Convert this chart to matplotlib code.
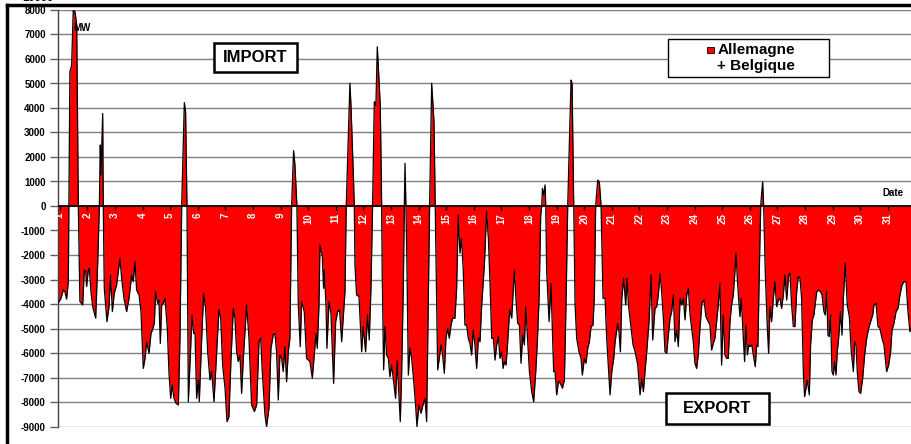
import matplotlib
matplotlib.use("Agg")
import matplotlib.pyplot as plt
from matplotlib.patches import Rectangle
from matplotlib.lines import Line2D

# hourly-ish readings of the exchange balance (MW), hour 0 = start of day 1
hours = [
    0.0, 2.3, 4.3, 5.8, 7.2, 8.7, 10.1, 11.6, 13.0, 14.5, 16.0, 17.4, 18.8, 21.2, 22.6, 23.8,
    24.6, 26.1, 27.0, 28.4, 29.9, 32.5, 34.2, 35.7, 36.5, 37.1, 38.6, 39.1, 40.0, 42.3, 44.1,
    45.5, 47.0, 48.7, 50.7, 53.6, 55.1, 57.1, 59.4, 61.5, 63.8, 65.2, 66.7, 68.1, 70.2, 71.9,
    73.9, 75.4, 76.8, 78.9, 80.6, 81.8, 83.5, 84.6, 86.4, 87.5, 88.7, 89.9, 91.3, 92.8, 94.8,
    96.2, 97.7, 99.1, 100.6, 102.3, 104.4, 105.8, 107.3, 109.6, 110.7, 111.9, 113.1, 116.3,
    117.7, 118.9, 120.3, 121.8, 122.6, 124.7, 126.4, 128.1, 129.9, 131.9, 133.4, 135.4, 137.7,
    139.7, 141.2, 142.9, 145.0, 146.7, 148.4, 150.2, 152.2, 153.6, 155.1, 156.5, 158.0, 159.4,
    160.9, 163.8, 165.8, 168.1, 170.5, 172.5, 174.5, 176.0, 177.4, 179.7,
    181.1, 183.2, 184.9, 186.9, 188.4, 189.8, 191.3, 192.7, 194.2, 195.6, 197.1, 198.5, 200.0,
    201.4, 202.9, 204.6, 205.8, 207.5, 208.7, 210.4, 211.6, 213.9, 215.9, 217.4, 218.8, 220.9,
    222.6, 224.1, 225.2, 226.7, 227.5, 229.6, 230.7, 231.3, 232.8, 233.6, 235.4, 237.1, 239.4,
    241.2, 242.9, 244.6, 246.4, 248.1, 249.3, 250.4, 253.6, 254.5, 256.5, 257.4, 258.0, 259.4,
    261.5, 263.8, 265.2, 267.2, 269.0, 270.4, 271.9, 273.3, 274.8, 276.2, 277.4, 278.6, 280.0,
    281.2, 281.7, 282.9, 284.1, 285.5, 287.0, 288.4, 289.9, 291.6, 293.3, 294.8, 295.9, 297.4,
    298.6, 300.0, 300.9, 301.5, 302.3, 303.2, 304.4, 305.8, 307.3, 309.0, 310.7, 311.9, 313.6,
    315.4, 317.1, 318.9, 320.3, 321.7, 322.9, 324.7, 325.5, 326.7, 327.8, 328.7, 329.9, 331.3,
    332.8, 334.2, 335.7, 337.1, 338.6, 340.0, 341.5, 342.9, 344.9, 346.4, 347.8, 349.3, 350.7,
    352.2, 353.6, 355.1, 356.5, 358.0, 359.4, 360.9, 362.3,
    363.8, 365.3, 366.7, 368.2, 370.5, 372.5, 374.0, 375.4, 376.9, 378.3, 379.8, 381.2, 382.7,
    384.1, 385.6, 386.8, 387.9, 389.4, 390.8, 392.5, 394.3, 396.6, 398.1, 399.5, 401.0, 402.4,
    403.9, 405.3, 406.5, 407.9, 409.7, 411.7, 413.4, 415.2, 416.6, 418.1, 419.5, 420.4, 421.0,
    422.1, 423.3, 423.9, 424.7, 426.8, 428.5, 429.7, 430.8, 432.0, 433.4, 434.9, 436.6, 438.4,
    440.1, 441.5, 443.0, 445.9, 446.8, 448.2, 449.4, 450.8, 452.8, 454.6, 455.7, 457.5, 458.9,
    460.4, 461.8, 463.3, 465.0, 466.2, 467.3, 469.1, 470.5, 472.0, 473.7, 475.5, 476.9, 478.4,
    479.8, 481.3, 483.0, 484.2, 486.5, 487.6, 488.8, 490.0, 491.7, 493.4, 494.6, 495.8, 498.1,
    499.8, 501.6, 503.9, 505.9, 507.4, 508.8, 510.2, 511.7, 513.7, 515.5, 516.9, 518.9, 520.4,
    521.8, 523.3, 524.7, 526.2, 527.6, 529.1, 530.5, 532.0, 533.4, 534.9, 536.3, 537.8, 539.2,
    540.7, 542.1, 543.6, 545.0, 546.5, 547.9, 549.4,
    552.2, 553.6, 555.1, 556.5, 558.0, 559.7, 561.5, 563.2, 565.2, 566.7, 568.1, 569.6, 571.0,
    572.5, 573.9, 575.4, 576.8, 578.3, 579.7, 581.2, 582.6, 584.1, 585.5, 587.0, 588.4, 589.3,
    590.5, 591.6, 592.8, 593.9, 595.7, 596.8, 598.0, 599.2, 600.3, 601.5, 603.2, 604.4, 606.1,
    607.3, 608.4, 609.6, 610.8, 612.5, 613.4, 614.8, 616.6, 617.7, 618.9, 620.3, 621.8, 623.2,
    624.7, 626.1, 627.6, 629.0, 630.5, 631.9, 633.4, 635.1, 636.3, 637.7, 639.2, 640.6, 642.1,
    643.5, 645.0, 646.4, 647.9, 649.0, 650.2, 651.3, 653.1, 654.2, 655.7, 657.1, 659.5, 661.2,
    662.9, 664.1, 665.8, 667.0, 668.2, 669.3, 670.5, 671.6, 672.8, 674.0, 675.1, 676.3, 677.4,
    678.6, 680.3, 681.5, 682.7, 684.4, 686.1, 687.9, 689.6, 691.4, 692.5, 693.7, 694.8, 696.3,
    697.7, 699.5, 701.2, 703.0, 704.7, 706.4, 708.2, 709.3, 711.1, 712.8, 714.5, 716.3, 718.0,
    720.3, 722.1, 723.8, 725.0, 726.7, 728.5, 730.2, 731.9, 733.7, 735.4, 737.2, 738.9, 740.6,
    742.4,
]
mw = [
    -3950, -3770, -3430, -3500, -3800, -3090, 5480, 5750, 8000, 7930, 7390, 0, -3900, -4040, -2610, -2680,
    -3290, -2610, -2540, -3500, -4110, -4580, -2410, 0, 2490, 1270, 3780, 0, -3360, -4720, -4110,
    -2820, -4310, -3560, -3220, -2140, -2950, -3770, -4310, -3770, -2820, -3090, -2270, -3430, -3630, -4310,
    -6630, -6220, -5540, -6010, -5200, -5060, -4790, -3500, -3970, -3840, -5610, -4040, -3970, -3770, -4990,
    -6760, -7850, -7310, -7850, -8050, -8120, -5400, 0, 4220, 3850, 0, -7990, -4450,
    -5200, -5200, -7850, -7100, -7990, -5400, -3560, -4180, -5950, -7100, -6760, -7990, -5950,
    -4240, -4580, -6490, -7440, -8800, -8600, -6220, -4180, -4580, -5950, -6350, -6080, -7650,
    -6220, -4040, -5400, -8120, -8390, -8120, -5540, -5400, -6760, -8530,
    -9000, -8260, -5810, -5260, -5200, -5950, -7920, -6080, -6220, -6760, -5740, -7170, -5950,
    -5400, 0, 2260, 1670, 0, -4040, -5740, -3900, -4310, -6220, -6290, -6350, -7030,
    -6080, -5200, -5810, -4040, -1590, -2070, -3360, -2610, -4040, -5810, -3900, -4380, -7240,
    -4720, -4310, -4240, -5540, -4310, -3500, 0, 5010, 4120, 1400, 0, -2410, -3630,
    -3700, -5950, -4920, -5950, -4450, -5470, -3360, 0, 4260, 4120, 6500, 5410, 4120,
    0, -2820, -6690, -4920, -6080, -6220, -6970, -6490, -7170, -7850, -6290, -7440, -8800,
    -6760, -3360, 0, 1740, 0, -2410, -6900, -5810, -6220, -7100, -8120, -9000, -8120,
    -8460, -8120, -7850, -8800, -4040, 0, 5010, 4390, 3440, 0, -2680, -6690, -6220,
    -5670, -6080, -6830, -5400, -4990, -5400, -4860, -4580, -4580, -3360, -370, -1930, -1320,
    -2680, -4860, -4860, -5400, -5610, -6080, -5060, -5670,
    -6630, -5400, -5540, -4040, -2410, -230, -1320, -3090, -5400, -5400, -6290, -5670, -5330,
    -6220, -5950, -6630, -6350, -6490, -5540, -4240, -4580, -2610, -3900, -4790, -4860, -6420,
    -5270, -5670, -4110, -5270, -6760, -7580, -7990, -6760, -5540, -3770, -370, 0, 720,
    450, 860, 0, -2680, -4720, -3160, -5130, -6760, -6760, -7710, -7170, -7240, -7440,
    -7100, -4040, 0, 5140, 5010, 0, -4040, -5400, -5950, -6220, -6900, -6220, -6420,
    -5810, -5540, -4920, -4860, -3630, 0, 1060, 990, 0, -3770, -3770, -5400, -6630,
    -7710, -6760, -6220, -5540, -4790, -5130, -5950, -3770, -2950, -4040, -2950, -4040, -4990,
    -5670, -5950, -6490, -7710, -7030, -7580, -6760, -5950, -4720, -2820, -5470, -4180, -4110,
    -3630, -2750, -3500, -4580, -5950, -6010, -5270, -4580, -4310, -3630, -5540, -5060, -5740,
    -3770, -4040, -3770, -4650, -3630, -3360, -4450,
    -5540, -6420, -6630, -6080, -4990, -3970, -3840, -4520, -4720, -4860, -5880, -5610, -5400,
    -4720, -4040, -3160, -6490, -4450, -6080, -6220, -6220, -4720, -4040, -3630, -2680, -1930,
    -2950, -3770, -4520, -3770, -5400, -6350, -4860, -6080, -5670, -5740, -5670, -6080, -6560,
    -5670, -5740, -2680, 0, 990, 0, -2680, -4990, -6010, -4110, -4720, -3770, -3090,
    -4110, -3840, -3770, -4180, -3630, -2820, -3840, -2820, -2750, -4040, -4920, -4920, -3500,
    -2880, -2950, -3770, -6760, -7780, -7440, -7100, -7710, -5670, -4650, -4450, -3500, -3430,
    -3500, -3630, -4310, -4450, -3500, -5270, -5330, -4450, -6760, -6900, -6350, -6900, -5950,
    -5400, -4310, -5270, -3770, -2340, -4040, -4520, -5950, -6760, -5540, -5670, -6760, -7580,
    -7650, -7030, -6080, -5400, -4990, -4720, -4450, -4040, -3970, -4920, -4990, -5400, -5670,
    -6760, -6490, -5950, -5060, -4790, -4310, -4180, -3630, -3220, -3090, -3090, -4310, -5130,
    -4860,
]
days = list(range(1, 32))
y_ticks = list(range(-9000, 8001, 1000))

W, H = 912, 444
plt.rcParams["font.family"] = ["Liberation Sans", "DejaVu Sans"]
plt.rcParams["font.weight"] = "bold"


def fx(x):
    return x / W


def fy(y):
    return 1 - y / H


fig = plt.figure(figsize=(W / 100, H / 100), dpi=100)
ax = fig.add_axes([fx(58.3), fy(426.5), 1 - fx(58.3), (426.5 - 10) / H])

ax.fill_between(hours, mw, 0, color="#FF0000", lw=0, zorder=2)
ax.plot(hours, mw, color="black", lw=0.9, zorder=3)

for v in y_ticks:
    if v != 0:
        ax.axhline(v, color="#808080", lw=1.0, zorder=1)
ax.axhline(0, color="black", lw=1.3, zorder=4)

ax.set_xlim(0, 742.4)
ax.set_ylim(-9000, 8000)
ax.set_axisbelow(False)

# spines first: moving a spine resets the tick objects
ax.spines["bottom"].set_position(("data", 0))
ax.spines["bottom"].set_visible(False)
for s in ["top", "right"]:
    ax.spines[s].set_visible(False)
ax.spines["left"].set_color("#404040")
ax.spines["left"].set_linewidth(1.0)

ax.set_yticks(y_ticks)
ax.set_yticklabels([str(v) for v in y_ticks], fontsize=7, fontweight="bold")
ax.tick_params(axis="y", direction="out", length=6, width=1, color="#606060", pad=3)

ax.set_xticks([24 * (d - 1) + 1.3 for d in days])
ax.set_xticklabels([str(d) for d in days], rotation=90, fontsize=7,
                   fontweight="bold", color="white", va="top", ha="center")
ax.tick_params(axis="x", direction="out", length=3, width=1, color="black", pad=2)

# annotations
fig.text(fx(73), fy(28), "MW", fontsize=7, fontweight="bold", va="center", ha="left")
fig.text(fx(882), fy(193), "Date", fontsize=7, fontweight="bold", va="center", ha="left")
# label of a chart above, cut off by the crop
fig.text(fx(38), fy(-2), "10000", fontsize=8, fontweight="bold", va="center", ha="center")


def boxed(x0, y0, x1, y1, label, lw=1.8):
    fig.add_artist(Rectangle((fx(x0), fy(y1)), (x1 - x0) / W, (y1 - y0) / H,
                             transform=fig.transFigure, facecolor="white",
                             edgecolor="black", lw=lw, zorder=5))
    if label:
        fig.text(fx((x0 + x1) / 2), fy((y0 + y1) / 2), label, fontsize=12,
                 fontweight="bold", ha="center", va="center", zorder=6)


boxed(214, 43, 297, 72, "IMPORT")
boxed(666, 393, 769, 424, "EXPORT")

# legend
boxed(668, 39, 829, 77, None, lw=1.0)
fig.add_artist(Rectangle((fx(707), fy(53.5)), 6.5 / W, 6.5 / H, transform=fig.transFigure,
                         facecolor="#FF0000", edgecolor="black", lw=0.6, zorder=6))
fig.text(fx(718), fy(50), "Allemagne", fontsize=11, fontweight="bold",
         ha="left", va="center", zorder=6)
fig.text(fx(795), fy(66), "+ Belgique", fontsize=11, fontweight="bold",
         ha="right", va="center", zorder=6)

# outer frame of the chart
fig.add_artist(Line2D([fx(7), fx(7)], [fy(5), 0], transform=fig.transFigure,
                      color="black", lw=2.5))
fig.add_artist(Line2D([fx(7), 1], [fy(5), fy(5)], transform=fig.transFigure,
                      color="black", lw=2.5))

fig.savefig("out.png", dpi=100)
